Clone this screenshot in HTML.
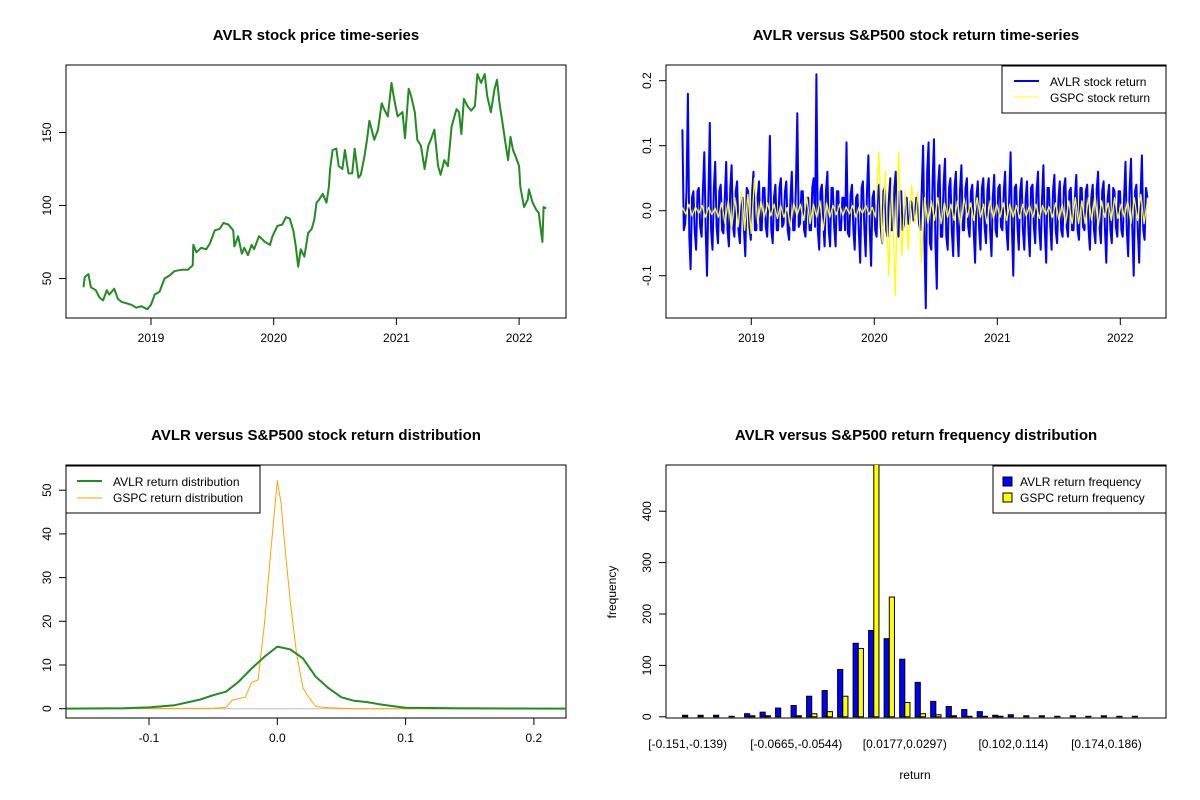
<!DOCTYPE html>
<html><head><meta charset="utf-8"><style>
html,body{margin:0;padding:0;background:#fff}
svg{display:block;font-family:"Liberation Sans",Arial,sans-serif}
.t{font-weight:bold;font-size:15px}
.l{font-size:12px}
</style></head><body>
<svg id="s" width="1200" height="800" viewBox="0 0 1200 800"></svg>
<script>
// ---- Panel 1: price time-series ----
const priceDates=[2018.45,2018.46,2018.49,2018.51,2018.55,2018.58,2018.61,2018.64,2018.66,2018.70,2018.73,2018.76,2018.80,2018.84,2018.88,2018.92,2018.97,2019.00,2019.03,2019.07,2019.11,2019.15,2019.19,2019.25,2019.30,2019.34,2019.345,2019.37,2019.41,2019.45,2019.48,2019.52,2019.56,2019.59,2019.63,2019.67,2019.68,2019.71,2019.74,2019.76,2019.79,2019.82,2019.84,2019.88,2019.93,2019.97,2019.99,2020.03,2020.07,2020.10,2020.13,2020.16,2020.18,2020.20,2020.22,2020.25,2020.28,2020.31,2020.33,2020.35,2020.37,2020.40,2020.43,2020.45,2020.46,2020.48,2020.51,2020.53,2020.56,2020.58,2020.61,2020.64,2020.66,2020.69,2020.71,2020.74,2020.76,2020.78,2020.82,2020.85,2020.88,2020.90,2020.93,2020.96,2020.98,2021.01,2021.05,2021.07,2021.10,2021.12,2021.15,2021.17,2021.20,2021.23,2021.26,2021.28,2021.31,2021.32,2021.34,2021.36,2021.39,2021.42,2021.45,2021.49,2021.51,2021.53,2021.55,2021.58,2021.61,2021.64,2021.66,2021.69,2021.72,2021.74,2021.77,2021.80,2021.82,2021.84,2021.87,2021.89,2021.91,2021.93,2021.95,2021.97,2022.00,2022.01,2022.04,2022.07,2022.08,2022.11,2022.14,2022.16,2022.19,2022.20,2022.22];
const prices=[44,51,53,44,42,37,35,42,39,43,36,34,33,32,30,31,29,32,39,41,50,52,55,56,56,59,73,68,71,70,74,83,84,88,87,83,72,79,67,71,66,73,70,79,75,73,79,86,87,92,91,83,72,58,70,65,81,84,90,102,104,108,102,113,125,138,139,127,125,138,122,122,139,119,121,134,145,158,145,152,170,166,161,184,174,161,164,146,180,175,164,145,141,125,141,145,152,143,127,121,131,127,154,166,164,149,173,168,165,168,190,184,190,175,164,180,186,170,154,142,131,147,138,134,127,113,99,104,111,102,97,95,75,99,98];
const priceTicks=[50,100,150];
const yearTicks=[2019,2020,2021,2022];
// ---- Panel 2: returns ----
const retStart=2018.44, retEnd=2022.22;
const avlrRet=[0.125,-0.03,-0.02,0.03,0.18,-0.04,-0.09,0.02,0.03,-0.03,-0.06,0.03,0.035,-0.025,-0.04,0.03,0.09,-0.03,-0.1,0.02,0.135,-0.03,-0.06,0.035,0.075,-0.025,-0.05,0.03,0.04,-0.03,-0.035,0.02,0.075,-0.03,-0.055,0.035,0.07,-0.025,-0.04,0.03,0.045,-0.03,-0.05,0.02,0.02,-0.03,-0.07,0.035,0.03,-0.025,-0.045,0.03,0.06,-0.03,-0.03,0.02,0.045,-0.03,-0.03,0.035,0.035,-0.025,-0.04,0.03,0.115,-0.03,-0.05,0.02,0.04,-0.03,-0.03,0.035,0.05,-0.025,-0.02,0.03,0.045,-0.03,-0.045,0.02,0.06,-0.03,-0.03,0.035,0.15,-0.025,-0.02,0.03,0.03,-0.03,-0.04,0.02,0.02,-0.03,-0.03,0.035,0.05,-0.025,0.21,-0.03,-0.06,0.03,0.04,-0.02,-0.055,0.03,0.06,-0.03,-0.055,0.035,0.035,-0.025,-0.055,0.03,0.03,-0.03,-0.03,0.02,0.02,-0.03,0.105,-0.035,-0.04,0.025,0.04,-0.03,-0.06,0.02,0.025,-0.03,-0.08,0.035,0.045,-0.025,-0.07,0.03,0.085,-0.03,-0.085,0.02,0.03,-0.03,-0.04,0.035,0.04,-0.025,-0.05,0.03,0.035,-0.03,-0.04,0.02,0.05,-0.03,-0.03,0.035,0.06,-0.025,-0.04,0.03,0.03,-0.03,-0.02,0.02,0.02,-0.02,-0.02,0.015,0.01,-0.015,-0.01,0.02,0.02,-0.02,-0.03,0.03,0.1,-0.05,-0.15,0.06,0.105,-0.05,-0.06,0.05,0.11,-0.05,-0.12,0.04,0.07,-0.04,-0.04,0.04,0.08,-0.04,-0.06,0.035,0.05,-0.03,-0.07,0.035,0.06,-0.03,-0.07,0.03,0.07,-0.03,-0.03,0.035,0.05,-0.025,-0.04,0.03,0.04,-0.03,-0.08,0.02,0.045,-0.03,-0.06,0.035,0.05,-0.025,-0.05,0.03,0.05,-0.03,-0.07,0.02,0.055,-0.03,-0.04,0.035,0.04,-0.025,-0.03,0.03,0.06,-0.03,-0.06,0.02,0.09,-0.03,-0.1,0.035,0.04,-0.025,-0.06,0.03,0.05,-0.03,-0.06,0.02,0.045,-0.03,-0.07,0.035,0.04,-0.025,-0.05,0.03,0.06,-0.03,-0.06,0.02,0.07,-0.03,-0.08,0.035,0.035,-0.025,-0.06,0.03,0.055,-0.03,-0.05,0.02,0.045,-0.03,-0.04,0.035,0.05,-0.025,-0.04,0.03,0.035,-0.03,-0.03,0.02,0.055,-0.03,-0.045,0.035,0.035,-0.025,-0.03,0.03,0.04,-0.03,-0.06,0.02,0.04,-0.03,-0.05,0.035,0.06,-0.025,-0.05,0.03,0.045,-0.03,-0.08,0.02,0.04,-0.03,-0.05,0.035,0.03,-0.025,-0.04,0.03,0.03,-0.03,-0.04,0.02,0.075,-0.03,-0.07,0.035,0.08,-0.025,-0.1,0.03,0.04,-0.03,-0.08,0.02,0.085,-0.03,-0.045,0.035,0.02];
const gspcRet=[0.005,-0.005,0.01,-0.008,0.006,-0.004,0.008,-0.01,0.005,-0.006,0.004,-0.01,0.012,-0.02,0.015,-0.03,0.02,-0.025,0.03,-0.03,0.025,-0.035,0.05,-0.02,0.015,-0.01,0.012,-0.008,0.01,-0.012,0.008,-0.01,0.005,-0.025,0.012,-0.008,0.01,-0.015,0.02,-0.02,0.01,-0.01,0.015,-0.03,0.012,-0.01,0.008,-0.006,0.01,-0.008,0.006,-0.005,0.008,-0.01,0.006,-0.004,0.008,-0.006,0.005,-0.01,0.09,-0.05,0.06,-0.1,0.05,-0.13,0.09,-0.07,0.03,-0.06,0.04,-0.02,0.03,-0.08,0.02,-0.02,0.015,-0.015,0.02,-0.02,0.012,-0.01,0.01,-0.015,0.015,-0.025,0.02,-0.01,0.012,-0.015,0.02,-0.01,0.01,-0.02,0.015,-0.012,0.01,-0.01,0.012,-0.015,0.01,-0.01,0.008,-0.012,0.01,-0.008,0.008,-0.01,0.01,-0.012,0.008,-0.006,0.006,-0.01,0.012,-0.015,0.01,-0.02,0.015,-0.02,0.02,-0.02,0.015,-0.02,0.02,-0.015,0.025,-0.025,0.015,-0.01,0.012,-0.015,0.02,-0.012,0.01,-0.01,0.015,-0.02,0.02,-0.015,0.025,-0.02,0.015];
const retTicks=[-0.1,0.0,0.1,0.2];
// ---- Panel 3: densities ----
const densX=[-0.17,-0.12,-0.1,-0.08,-0.06,-0.05,-0.04,-0.03,-0.02,-0.01,0,0.01,0.02,0.03,0.04,0.05,0.06,0.07,0.08,0.09,0.1,0.14,0.23];
const avlrDens=[0,0.1,0.3,0.8,2.1,3.1,3.9,6.2,9.2,11.9,14.2,13.6,11.5,7.3,4.7,2.6,1.8,1.5,1.0,0.6,0.2,0.1,0];
const gspcX=[-0.17,-0.05,-0.04,-0.035,-0.03,-0.025,-0.02,-0.015,-0.01,-0.005,0,0.003,0.005,0.01,0.015,0.02,0.025,0.03,0.04,0.05,0.06,0.23];
const gspcDens=[0,0.1,0.3,2.0,2.3,2.6,6.0,6.6,19.5,36.3,52.2,47,40,24.9,12.7,4.7,2.4,0.5,0.2,0.1,0,0];
const densXTicks=[-0.1,0.0,0.1,0.2];
const densYTicks=[0,10,20,30,40,50];
// ---- Panel 4: histogram ----
const binLabels=["[-0.151,-0.139)","","","","","","","[-0.0665,-0.0544)","","","","","","","[0.0177,0.0297)","","","","","","","[0.102,0.114)","","","","","","[0.174,0.186)","",""];
const avlrFreq=[3,3,3,1,6,9,17,22,40,51,92,143,168,152,112,67,30,20,14,10,3,4,2,2,1,2,1,2,1,1];
const gspcFreq=[0,0,0,0,2,2,0,2,6,10,40,133,492,233,28,6,4,2,1,1,1,0,0,0,0,0,0,0,0,0];
const freqTicks=[0,100,200,300,400];

const NS="http://www.w3.org/2000/svg", S=document.getElementById('s');
function el(tag,attrs,parent,text){const e=document.createElementNS(NS,tag);for(const k in attrs)e.setAttribute(k,attrs[k]);if(text!==undefined)e.textContent=text;(parent||S).appendChild(e);return e;}
function grp(name){const g=el('g',{},S);


return g;}
function box(g,x0,y0,x1,y1){const r=el('rect',{x:x0,y:y0,width:x1-x0,height:y1-y0,fill:'none',stroke:'#000','stroke-width':1},g);

}
function title(g,x,y,t){const e=el('text',{x:x,y:y,'text-anchor':'middle',class:'t'},g,t);

}
function xaxis(g,vals,fx,y,labs){const a=el('g',{},g);


el('line',{x1:fx(vals[0]),x2:fx(vals[vals.length-1]),y1:y,y2:y,stroke:'#000'},a);
vals.forEach((v,i)=>{el('line',{x1:fx(v),x2:fx(v),y1:y,y2:y+7,stroke:'#000'},a);
const t=el('text',{x:fx(v),y:y+24,'text-anchor':'middle',class:'l'},a,labs?labs[i]:String(v));

});}
function yaxis(g,vals,fy,x,labs){const a=el('g',{},g);


el('line',{x1:x,x2:x,y1:fy(vals[0]),y2:fy(vals[vals.length-1]),stroke:'#000'},a);
vals.forEach((v,i)=>{el('line',{x1:x,x2:x-7,y1:fy(v),y2:fy(v),stroke:'#000'},a);
const t=el('text',{x:x-15,y:fy(v),'text-anchor':'middle',class:'l',transform:`rotate(-90 ${x-15} ${fy(v)})`},a,labs?labs[i]:String(v));

});}
function poly(g,xs,ys,fx,fy,color,w,name){const p=el('polyline',{points:xs.map((x,i)=>fx(x).toFixed(1)+','+fy(ys[i]).toFixed(1)).join(' '),fill:'none',stroke:color,'stroke-width':w,'stroke-linejoin':'round'},g);

}

// Panel 1
{const g=grp('price-panel');
const fx=v=>151+(v-2019)*122.7, fy=v=>278.5-(v-50)*73/50;
box(g,66,65,566,318);title(g,316,40,'AVLR stock price time-series');
poly(g,priceDates,prices,fx,fy,'#228B22',2,'price-line');
xaxis(g,yearTicks,fx,318);yaxis(g,priceTicks,fy,66);}

// Panel 2
{const g=grp('returns-panel');
const fx=v=>751.3+(v-2019)*123, fy=v=>210.7-v*650;
box(g,666,65,1166,318);title(g,916,40,'AVLR versus S&P500 stock return time-series');
const da=avlrRet.map((_,i)=>retStart+(retEnd-retStart)*i/(avlrRet.length-1));
const dg=gspcRet.map((_,i)=>retStart+(retEnd-retStart)*i/(gspcRet.length-1));
poly(g,da,avlrRet,fx,fy,'#0000FF',2,'avlr-return-line');
poly(g,dg,gspcRet,fx,fy,'#FFFF00',1.3,'gspc-return-line');
xaxis(g,yearTicks,fx,318);yaxis(g,retTicks,fy,666,['-0.1','0.0','0.1','0.2']);
const lg=el('g',{},g);


el('rect',{x:1002,y:66,width:164,height:47,fill:'#fff',stroke:'#000'},lg);
el('line',{x1:1014,x2:1039,y1:81,y2:81,stroke:'#0000FF','stroke-width':2},lg);
el('line',{x1:1014,x2:1039,y1:97,y2:97,stroke:'#FFFF00','stroke-width':1},lg);
el('text',{x:1050,y:86,class:'l'},lg,'AVLR stock return');
el('text',{x:1050,y:102,class:'l'},lg,'GSPC stock return');}

// Panel 3
{const g=grp('density-panel');
const fx=v=>277.3+v*1283, fy=v=>708.7-v*4.37;
box(g,66,465,566,718);title(g,316,440,'AVLR versus S&P500 stock return distribution');
el('line',{x1:66,x2:566,y1:fy(0),y2:fy(0),stroke:'#bebebe'},g);
const cp=el('clipPath',{id:'c3'},g);el('rect',{x:66,y:465,width:500,height:253},cp);
const inner=el('g',{'clip-path':'url(#c3)'},g);
poly(inner,gspcX,gspcDens,fx,fy,'#FFA500',1,'gspc-density-line');
poly(inner,densX,avlrDens,fx,fy,'#228B22',2,'avlr-density-line');
xaxis(g,densXTicks,fx,718,['-0.1','0.0','0.1','0.2']);yaxis(g,densYTicks,fy,66);
const lg=el('g',{},g);


el('rect',{x:66,y:466,width:194,height:47,fill:'#fff',stroke:'#000'},lg);
el('line',{x1:77,x2:102,y1:481,y2:481,stroke:'#228B22','stroke-width':2},lg);
el('line',{x1:77,x2:102,y1:498,y2:498,stroke:'#FFA500','stroke-width':1},lg);
el('text',{x:113,y:486,class:'l'},lg,'AVLR return distribution');
el('text',{x:113,y:502,class:'l'},lg,'GSPC return distribution');}

// Panel 4
{const g=grp('histogram-panel');
const u=5.17, x0=682.5, fy=v=>716.8-v*0.514;
box(g,666,465,1166,718);title(g,916,440,'AVLR versus S&P500 return frequency distribution');
const cp=el('clipPath',{id:'c4'},g);el('rect',{x:666,y:465,width:500,height:253},cp);
const inner=el('g',{'clip-path':'url(#c4)'},g);
avlrFreq.forEach((v,i)=>{const r=el('rect',{x:x0+i*3*u,y:fy(v),width:u,height:fy(0)-fy(v),fill:'#0000FF',stroke:'#000','stroke-width':1},inner);

});
gspcFreq.forEach((v,i)=>{const r=el('rect',{x:x0+i*3*u+u,y:fy(v),width:u,height:fy(0)-fy(v),fill:'#FFFF00',stroke:'#000','stroke-width':1},inner);

});
yaxis(g,freqTicks,fy,666);
binLabels.forEach((t,i)=>{if(!t)return;const e=el('text',{x:x0+i*3*u+u,y:748,'text-anchor':'middle',class:'l'},g,t);

});
const xl=el('text',{x:915,y:779,'text-anchor':'middle',class:'l'},g,'return');


const yl=el('text',{x:616,y:592,'text-anchor':'middle',class:'l',transform:'rotate(-90 616 592)'},g,'frequency');


const lg=el('g',{},g);


el('rect',{x:993,y:466,width:173,height:47,fill:'#fff',stroke:'#000'},lg);
el('rect',{x:1003,y:477,width:9,height:9,fill:'#0000FF',stroke:'#000'},lg);
el('rect',{x:1003,y:493,width:9,height:9,fill:'#FFFF00',stroke:'#000'},lg);
el('text',{x:1020,y:486,class:'l'},lg,'AVLR return frequency');
el('text',{x:1020,y:502,class:'l'},lg,'GSPC return frequency');}
</script>
</body></html>
